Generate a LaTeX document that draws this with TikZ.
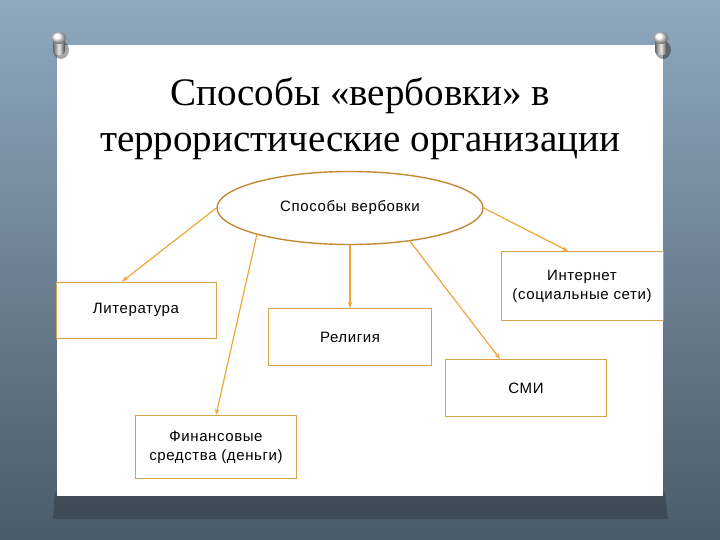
\documentclass[tikz,border=0pt]{standalone}
\usepackage{fontspec}
\setmainfont{Liberation Serif}
\setsansfont{Liberation Sans}
\usetikzlibrary{positioning, arrows.meta, calc, shapes.geometric}

\definecolor{boardtop}{HTML}{8EA8BE}
\definecolor{boardbot}{HTML}{4B5B69}
\definecolor{linkor}{HTML}{F0A53A}
\definecolor{boxor}{HTML}{D8A24C}
\definecolor{ellor}{HTML}{C08A38}

\begin{document}
\begin{tikzpicture}[x=1pt, y=-1pt,
  font=\sffamily,
  waybox/.style={draw=boxor, line width=0.9pt, fill=white, align=center, inner sep=0pt,
    font=\sffamily\fontsize{15}{19}\selectfont\addfontfeatures{LetterSpace=4}},
  link/.style={-{Stealth[length=6pt, width=4.5pt]}, draw=linkor, line width=1.2pt}
]

% board and slide
\shade[top color=boardtop, bottom color=boardbot] (0,0) rectangle (720,540);
\fill[black, opacity=.2] (55,492) -- (665,492) -- (668,519) -- (53,519) -- cycle;
\fill[white] (57,45) rectangle (663,496);

% pins
\foreach \px in {59,661}{
  \fill[black, opacity=.35] (\px+2,50) ellipse (8pt and 9pt);
  \shade[left color=gray!80!black, right color=gray!55!black, middle color=gray!15,
    rounded corners=4pt] (\px-6,38) rectangle (\px+6,55);
  \shade[ball color=white] (\px,38) ellipse (7pt and 6pt);
}

% title
\node[align=center, font=\rmfamily\fontsize{39}{46}\selectfont] (title) at (360,119)
  {Способы «вербовки» в\\террористические организации};

% --- centre ---
\node[ellipse, draw=ellor, line width=1.4pt, fill=white, minimum width=266, minimum height=73,
  inner sep=0pt, font=\sffamily\fontsize{15}{19}\selectfont\addfontfeatures{LetterSpace=4}]
  (ways) at (350,208) {Способы вербовки};

% --- ways ---
\node[waybox, minimum width=160, minimum height=56](lit) at (136,310) {Литература};
\node[waybox, minimum width=163, minimum height=57](rel) at (350,337) {Религия};
\node[waybox, minimum width=162, minimum height=69](inet) at (582,286) {Интернет\\(социальные сети)};
\node[waybox, minimum width=161, minimum height=57](smi) at (526,388) {СМИ};
\node[waybox, minimum width=161, minimum height=63](fin) at (216,447) {Финансовые\\средства (деньги)};

% links
\draw[link](ways.west) -- ($(lit.north)+(-14,0)$);
\draw[link](ways.196) -- (fin.north);
\draw[link](ways.south) -- (rel.north);
\draw[link](ways.331) -- ($(smi.north)+(-26,0)$);
\draw[link](ways.east) -- ($(inet.north)+(-14,0)$);

\end{tikzpicture}
\end{document}
